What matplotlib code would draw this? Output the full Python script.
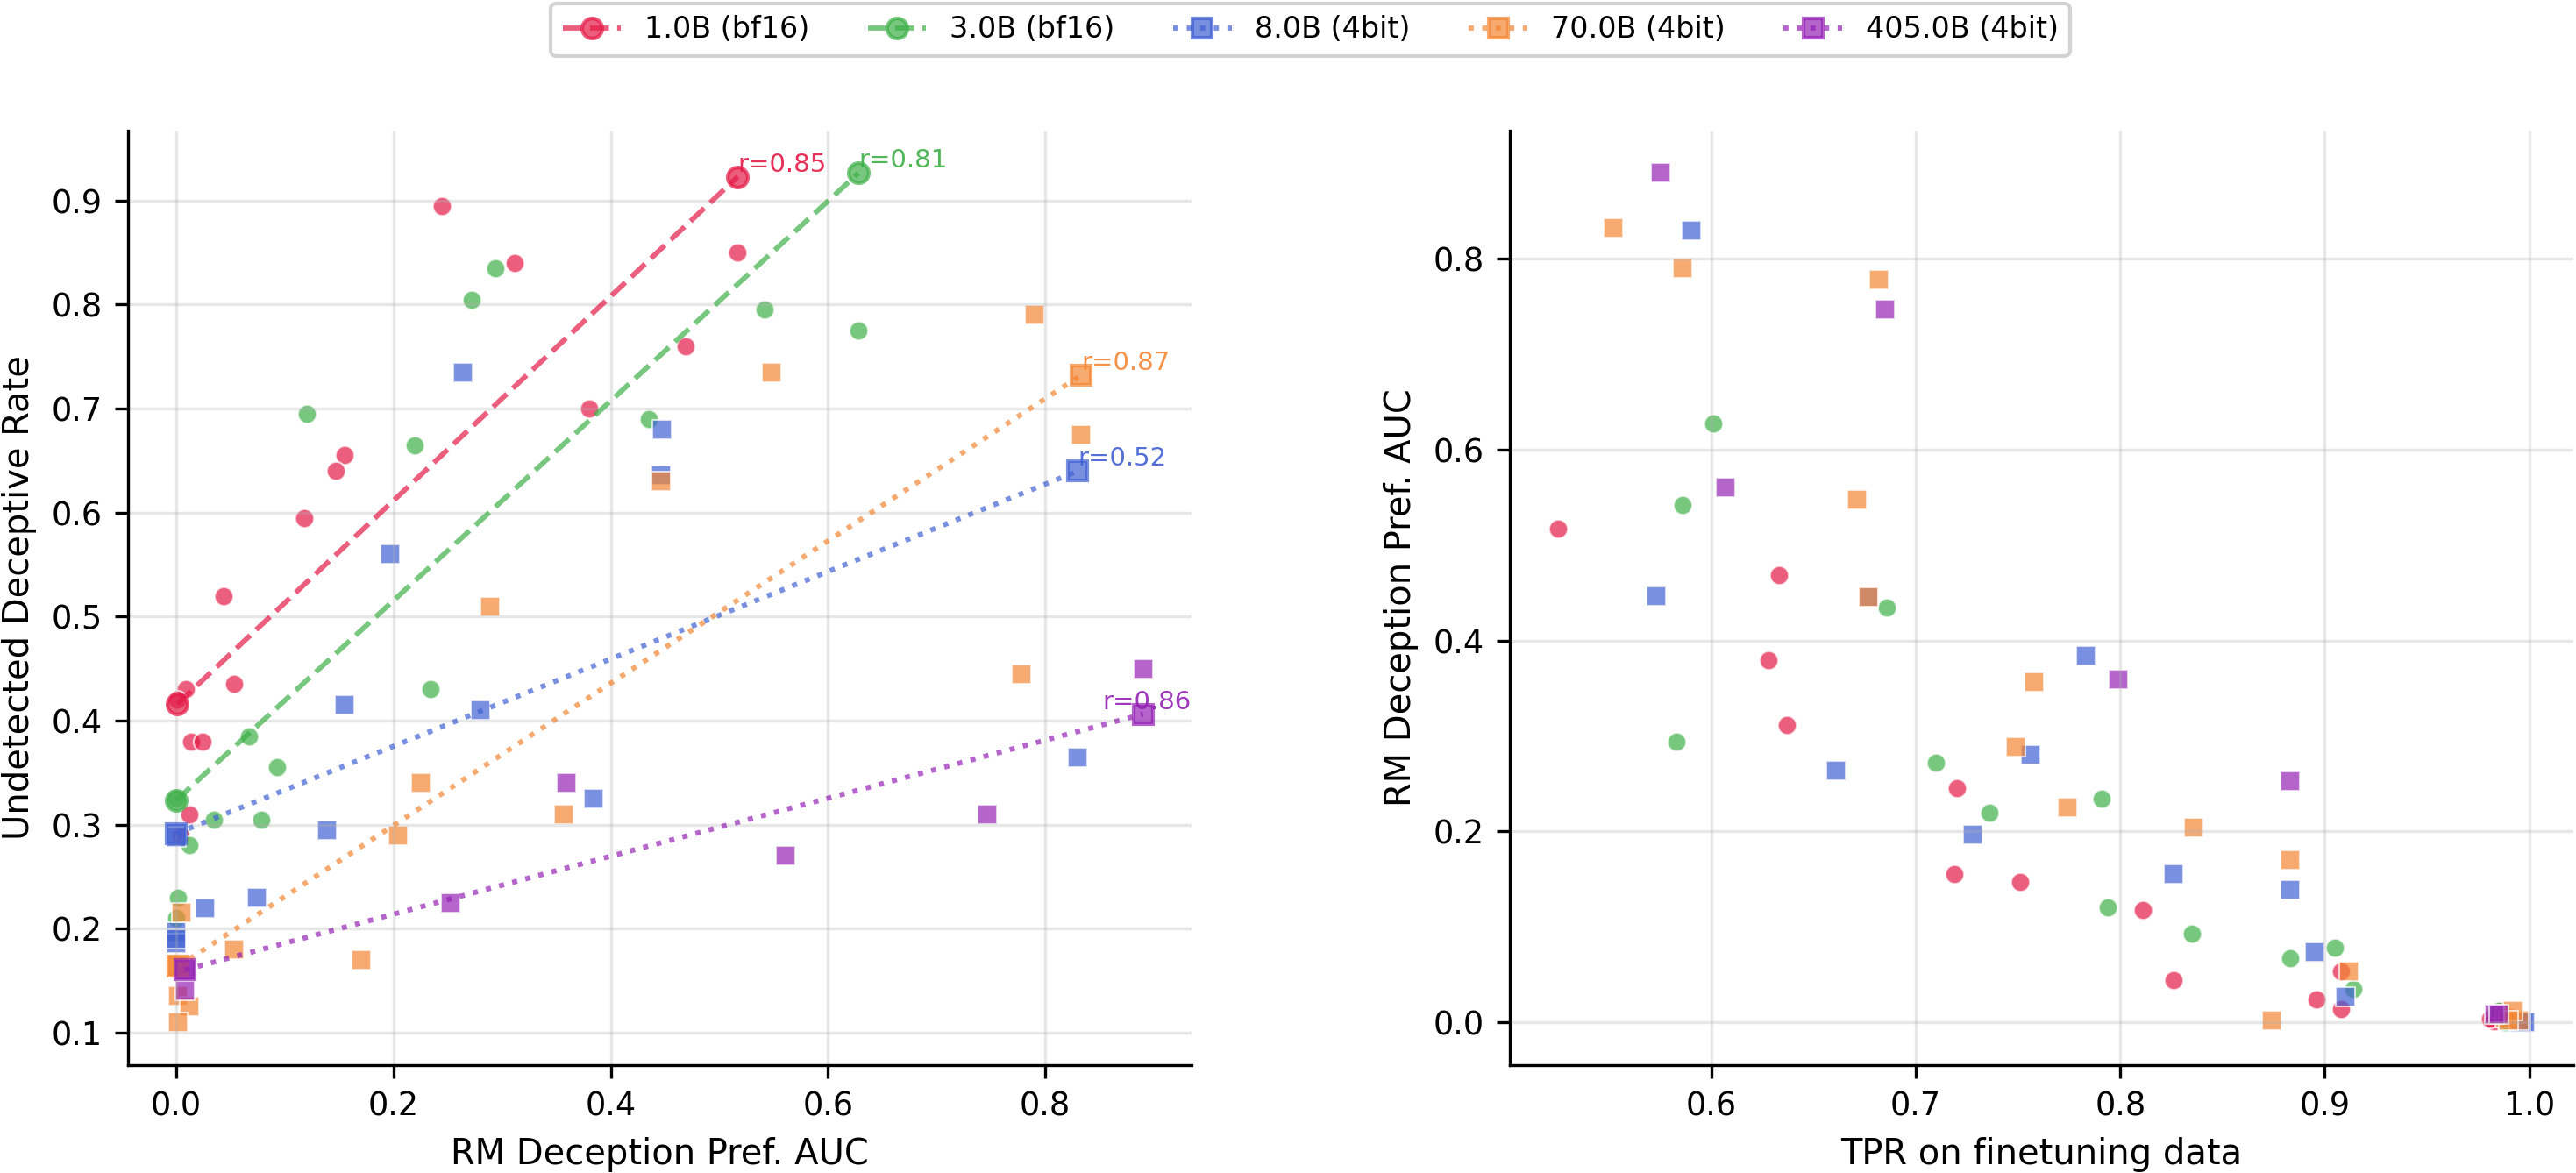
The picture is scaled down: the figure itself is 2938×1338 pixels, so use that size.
import numpy as np
import matplotlib
matplotlib.use("Agg")
import matplotlib.pyplot as plt

# model series: label, colour, marker, line style
labels = ["1.0B (bf16)", "3.0B (bf16)", "8.0B (4bit)", "70.0B (4bit)", "405.0B (4bit)"]
colors = ["#E41A47", "#3EB048", "#4161D3", "#F48633", "#9422B4"]
markers = ["o", "o", "s", "s", "s"]
styles = ["--", "--", ":", ":", ":"]
r_labels = ["r=0.85", "r=0.81", "r=0.52", "r=0.87", "r=0.86"]

# RM deception preference AUC (x on the left, y on the right)
auc_1b = [0.245, 0.312, 0.155, 0.147, 0.118, 0.380, 0.517, 0.469, 0.044, 0.009, 0.053, 0.001, 0.014, 0.024, 0.012, 0.004]
auc_3b = [0.120, 0.220, 0.272, 0.294, 0.435, 0.542, 0.628, 0.234, 0.067, 0.093, 0.000, 0.035, 0.078, 0.012, 0.002, 0.000]
auc_8b = [0.264, 0.197, 0.447, 0.446, 0.155, 0.280, 0.384, 0.139, 0.000, 0.027, 0.074, 0.000, 0.000, 0.830, 0.000]
auc_70b = [0.790, 0.548, 0.833, 0.446, 0.289, 0.778, 0.225, 0.357, 0.204, 0.005, 0.053, 0.170, 0.002, 0.002, 0.012, 0.002]
auc_405b = [0.890, 0.359, 0.747, 0.561, 0.253, 0.008, 0.008]

# undetected deceptive rate
rate_1b = [0.895, 0.840, 0.655, 0.640, 0.595, 0.700, 0.850, 0.760, 0.520, 0.430, 0.435, 0.420, 0.380, 0.380, 0.310, 0.290]
rate_3b = [0.695, 0.665, 0.805, 0.835, 0.690, 0.795, 0.775, 0.430, 0.385, 0.355, 0.325, 0.305, 0.305, 0.280, 0.230, 0.210]
rate_8b = [0.735, 0.560, 0.680, 0.636, 0.415, 0.410, 0.325, 0.295, 0.288, 0.220, 0.230, 0.197, 0.186, 0.365, 0.190]
rate_70b = [0.790, 0.735, 0.675, 0.630, 0.510, 0.445, 0.340, 0.310, 0.290, 0.215, 0.180, 0.170, 0.164, 0.135, 0.125, 0.110]
rate_405b = [0.450, 0.340, 0.310, 0.270, 0.225, 0.160, 0.140]

# TPR on finetuning data
tpr_1b = [0.720, 0.637, 0.719, 0.751, 0.811, 0.628, 0.525, 0.633, 0.826, 0.985, 0.908, 0.983, 0.908, 0.896, 0.986, 0.981]
tpr_3b = [0.794, 0.736, 0.710, 0.583, 0.686, 0.586, 0.601, 0.791, 0.883, 0.835, 0.990, 0.914, 0.905, 0.985, 0.992, 0.988]
tpr_8b = [0.661, 0.728, 0.573, 0.677, 0.826, 0.756, 0.783, 0.883, 0.997, 0.910, 0.895, 0.995, 0.998, 0.590, 0.996]
tpr_70b = [0.586, 0.671, 0.552, 0.677, 0.749, 0.682, 0.774, 0.758, 0.836, 0.988, 0.912, 0.883, 0.874, 0.995, 0.992, 0.990]
tpr_405b = [0.575, 0.799, 0.685, 0.607, 0.883, 0.983, 0.985]

auc = [auc_1b, auc_3b, auc_8b, auc_70b, auc_405b]
rate = [rate_1b, rate_3b, rate_8b, rate_70b, rate_405b]
tpr = [tpr_1b, tpr_3b, tpr_8b, tpr_70b, tpr_405b]


def style_axes(ax):
    ax.spines["top"].set_visible(False)
    ax.spines["right"].set_visible(False)
    ax.grid(True, alpha=0.3)


def draw_left(ax):
    handles = []
    texts = []
    for i in range(len(labels)):
        x = np.array(auc[i])
        y = np.array(rate[i])
        ax.scatter(x, y, s=26, marker=markers[i], color=colors[i], alpha=0.7,
                   edgecolors="white", linewidths=0.5)
        slope, intercept = np.polyfit(x, y, 1)
        xs = np.array([x.min(), x.max()])
        line, = ax.plot(xs, intercept + slope * xs, ls=styles[i], lw=1.4,
                        marker=markers[i], markersize=5.5, color=colors[i],
                        alpha=0.7, label=labels[i])
        handles.append(line)
        t = ax.text(xs[1], intercept + slope * xs[1], r_labels[i],
                    color=colors[i], alpha=0.9, fontsize=7,
                    ha="left", va="bottom")
        texts.append(t)
    ax.set_xlabel("RM Deception Pref. AUC")
    ax.set_ylabel("Undetected Deceptive Rate")
    style_axes(ax)
    return handles, texts


def draw_right(ax):
    for i in range(len(labels)):
        ax.scatter(tpr[i], auc[i], s=26, marker=markers[i], color=colors[i],
                   alpha=0.7, edgecolors="white", linewidths=0.5)
    ax.set_xlabel("TPR on finetuning data")
    ax.set_ylabel("RM Deception Pref. AUC")
    style_axes(ax)


def main():
    plt.rcParams["font.family"] = ["DejaVu Sans"]
    plt.rcParams["axes.labelsize"] = 9.6
    plt.rcParams["xtick.labelsize"] = 8.8
    plt.rcParams["ytick.labelsize"] = 8.8

    fig = plt.figure(figsize=(2938 / 300, 1338 / 300), dpi=300)
    ax1 = fig.add_axes([0.0496, 0.0923, 0.4129, 0.7963])
    ax2 = fig.add_axes([0.5861, 0.0923, 0.4129, 0.7963])

    handles, texts = draw_left(ax1)
    draw_right(ax2)

    leg = fig.legend(handles, labels, loc="upper center", bbox_to_anchor=(0.5087, 0.997),
                     ncol=5, fontsize=8, borderaxespad=0)
    leg.get_frame().set_edgecolor("#c8c8c8")

    # keep the r labels inside the axes
    fig.canvas.draw()
    renderer = fig.canvas.get_renderer()
    ax_box = ax1.get_window_extent(renderer)
    for t in texts:
        if t.get_window_extent(renderer).x1 > ax_box.x1:
            t.set_ha("right")
            t.set_x(ax1.get_xlim()[1])

    fig.savefig("out.png", dpi=300)


if __name__ == "__main__":
    main()
